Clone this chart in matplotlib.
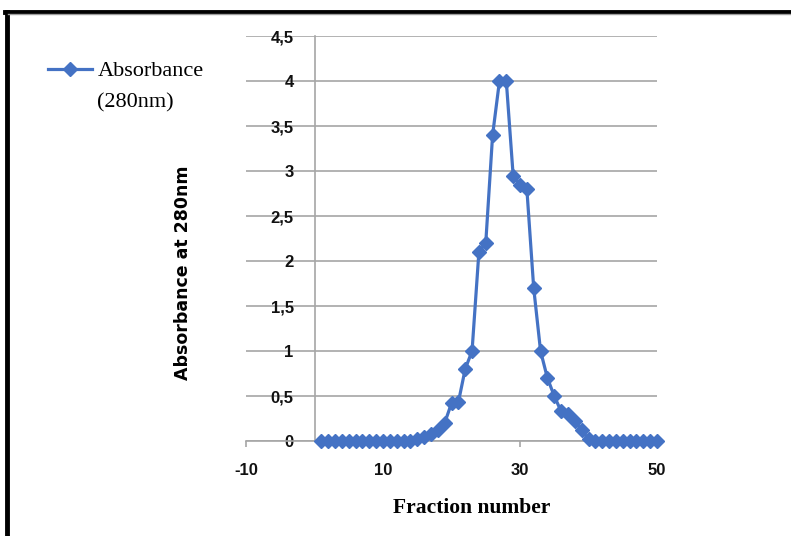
import matplotlib
matplotlib.use("Agg")
import matplotlib.pyplot as plt
from matplotlib.lines import Line2D
from matplotlib.ticker import FuncFormatter

plt.rcParams["axes.unicode_minus"] = False

# Absorbance at 280 nm for each collected fraction
fractions = list(range(1, 51))
absorbance = [0.0] * 14 + [
    0.02, 0.04, 0.08, 0.12, 0.20, 0.42, 0.43, 0.80, 1.00, 2.10,
    2.20, 3.40, 4.00, 4.00, 2.95, 2.85, 2.80, 1.70, 1.00, 0.70,
    0.50, 0.33, 0.30, 0.22, 0.12, 0.02,
] + [0.0] * 10

x_ticks = [-10, 10, 30, 50]
y_ticks = [0, 0.5, 1, 1.5, 2, 2.5, 3, 3.5, 4, 4.5]

BLUE = "#4472C4"
GRID = "#A6A6A6"

fig = plt.figure(figsize=(7.91, 5.36), dpi=100)
ax = fig.add_axes([0.311, 0.1772, 0.5196, 0.7556])

line, = ax.plot(fractions, absorbance, color=BLUE, lw=2.3, marker="D",
                markersize=7.3, markeredgecolor=BLUE, label="Absorbance",
                clip_on=False, zorder=3)

ax.set_xlim(-10, 50)
ax.set_ylim(0, 4.5)
ax.set_xticks(x_ticks)
ax.set_yticks(y_ticks)
ax.yaxis.set_major_formatter(FuncFormatter(lambda v, p: f"{v:g}".replace(".", ",")))

ax.grid(axis="y", color=GRID, lw=1.2)
ax.set_axisbelow(True)

for s in ["top", "right"]:
    ax.spines[s].set_visible(False)
ax.spines["left"].set_position(("data", 0))
ax.spines["left"].set_color(GRID)
ax.spines["left"].set_linewidth(1.2)
ax.spines["bottom"].set_color(GRID)
ax.spines["bottom"].set_linewidth(1.2)

tick_font = ["Liberation Sans Narrow", "Liberation Sans"]
ax.tick_params(axis="y", length=0, pad=15, labelsize=12)
ax.tick_params(axis="x", length=4, width=1.2, color=GRID, direction="out",
               pad=12, labelsize=12)
for lab in ax.get_xticklabels() + ax.get_yticklabels():
    lab.set_family(tick_font)
    lab.set_fontweight("bold")
    lab.set_color("#111111")

ax.set_ylabel("Absorbance at 280nm", fontsize=12.5, fontweight="bold",
              family="DejaVu Sans")
ax.yaxis.label.set_va("center")
ax.yaxis.set_label_coords(-0.153, 0.415)
ax.set_xlabel("Fraction number", fontsize=15.5, fontweight="bold",
              family="Liberation Serif")
ax.xaxis.label.set_va("center")
ax.xaxis.set_label_coords(0.55, -0.165)

leg = fig.legend(handles=[line], loc="upper left", bbox_to_anchor=(0.0607, 0.8865),
                 frameon=False, handlelength=2.0, handletextpad=0.25,
                 borderpad=0, borderaxespad=0,
                 prop={"family": "Liberation Serif", "size": 16})
fig.text(0.1226, 0.808, "(280nm)", family="Liberation Serif", fontsize=16,
         va="center", ha="left")

# screenshot frame (top and left edges)
fig.add_artist(Line2D([0.006, 1.0], [0.978, 0.978], color="black", lw=3.5,
                      transform=fig.transFigure))
fig.add_artist(Line2D([0.0085, 0.0085], [0.0, 0.978], color="black", lw=3.5,
                      transform=fig.transFigure))
fig.add_artist(Line2D([0.01, 1.0], [0.973, 0.973], color="#9E9E9E", lw=1,
                      transform=fig.transFigure))

fig.savefig("out.png", dpi=100)
